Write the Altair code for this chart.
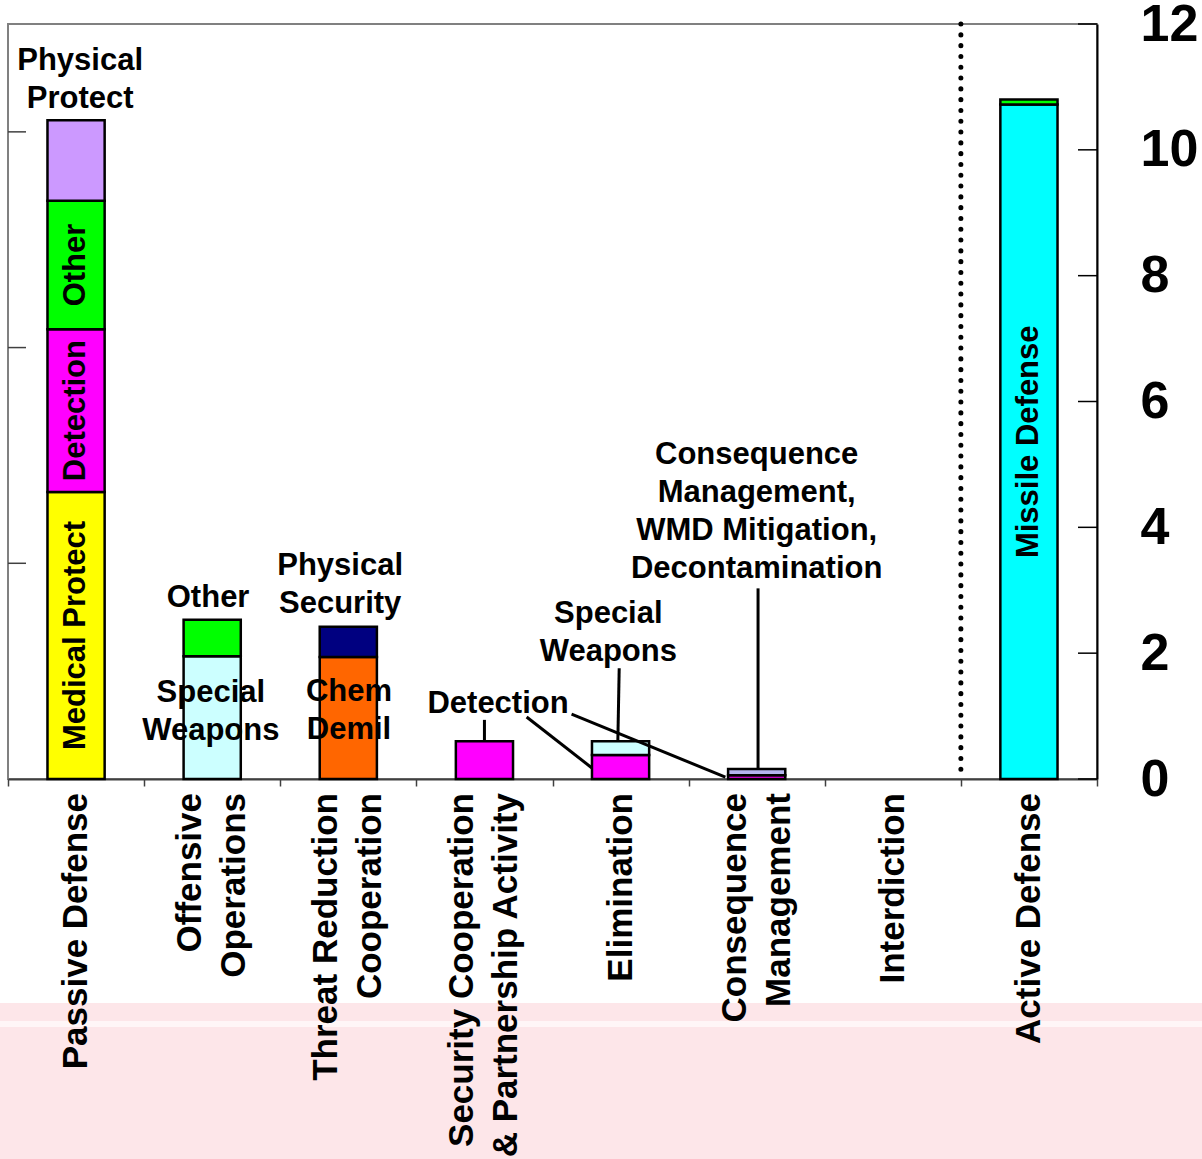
import altair as alt
import pandas as pd

# ---- data -------------------------------------------------------------
categories = [
    "Passive Defense",
    "Offensive\nOperations",
    "Threat Reduction\nCooperation",
    "Security Cooperation\n& Partnership Activity",
    "Elimination",
    "Consequence\nManagement",
    "Interdiction",
    "Active Defense",
]

# stacked segments, bottom to top within each category
seg_category = [0, 0, 0, 0, 1, 1, 2, 2, 3, 4, 4, 5, 5, 7, 7]
seg_name = [
    "Medical Protect", "Detection", "Other", "Physical Protect",
    "Special Weapons", "Other",
    "Chem Demil", "Physical Security",
    "Detection",
    "Detection", "Special Weapons",
    "Detection", "Consequence Management",
    "Missile Defense", "Other",
]
seg_value = [4.56, 2.59, 2.04, 1.28,
             1.95, 0.58,
             1.94, 0.48,
             0.60,
             0.38, 0.22,
             0.06, 0.10,
             10.72, 0.08]

segment_names = ["Medical Protect", "Detection", "Other", "Physical Protect",
                 "Special Weapons", "Chem Demil", "Physical Security",
                 "Consequence Management", "Missile Defense"]
segment_colors = ["#FFFF00", "#FF00FF", "#00FF00", "#CC99FF",
                  "#CCFFFF", "#FF6600", "#000080",
                  "#B4B4EE", "#00FFFF"]

# segments whose name is written inside the bar
inside_labels = [(0, "Medical Protect"), (0, "Detection"), (0, "Other"),
                 (7, "Missile Defense")]

y_ticks = [0, 2, 4, 6, 8, 10, 12]

# unlabeled secondary scale on the left edge (0 to 3.5)
left_ticks = [1, 2, 3]
left_max = 3.5

# callout labels around the bars (y = first line)
ann_text = ["Physical\nProtect", "Other", "Special\nWeapons", "Physical\nSecurity",
            "Chem\nDemil", "Detection", "Special\nWeapons",
            "Consequence\nManagement,\nWMD Mitigation,\nDecontamination"]
ann_x = [0.53, 1.47, 1.49, 2.44, 2.505, 3.60, 4.41, 5.50]
ann_y = [11.41, 2.88, 1.37, 3.39, 1.38, 1.19, 2.62, 5.15]

# leader lines from callouts to their segments
lead_x = [3.50, 3.81, 4.14, 4.49, 5.51]
lead_x2 = [3.50, 4.29, 5.27, 4.48, 5.51]
lead_y = [0.94, 0.985, 1.03, 1.76, 3.03]
lead_y2 = [0.60, 0.175, 0.03, 0.60, 0.16]

divider_at = [7]

# ---- layout -------------------------------------------------------------
W, H = 1089, 755
FONT = "Liberation Sans"
BAR_HALF = 0.21
Y_MAX = 12
N_CAT = len(categories)
CAT_LINE_H = 44          # line height of the category labels, px
BAND_PX = W / N_CAT

seg = pd.DataFrame({"cat": seg_category, "segment": seg_name, "value": seg_value})
seg["y1"] = seg.groupby("cat")["value"].cumsum()
seg["y0"] = seg["y1"] - seg["value"]
seg["x0"] = seg["cat"] + 0.5 - BAR_HALF
seg["x1"] = seg["cat"] + 0.5 + BAR_HALF
seg["xc"] = seg["cat"] + 0.5
seg["ym"] = (seg["y0"] + seg["y1"]) / 2
seg["inside"] = [(c, s) in inside_labels for c, s in zip(seg["cat"], seg["segment"])]

xs = alt.Scale(domain=[0, N_CAT], nice=False, zero=False)
ys = alt.Scale(domain=[0, Y_MAX], nice=False, zero=False)

# x axis: ticks at category boundaries, names drawn as a text layer below
x_axis = alt.Axis(
    values=list(range(N_CAT + 1)), labels=False,
    tickSize=7, tickColor="#404040", tickWidth=1.5,
    domainColor="#404040", domainWidth=2, grid=False, title=None,
)
y_axis = alt.Axis(
    orient="right", values=y_ticks, ticks=False, format="d",
    labelFont=FONT, labelFontSize=52, labelFontWeight="bold", labelColor="black",
    labelPadding=43, labelFlush=False, labelOverlap=False,
    domainColor="black", domainWidth=2, grid=False, title=None,
)

one = pd.DataFrame({"k": [0]})

# light pink footer band behind the category labels
band = alt.Chart(one).mark_rect(color="#FDE6E9", clip=False).encode(
    x=alt.value(-8), x2=alt.value(W + 105), y=alt.value(979), y2=alt.value(1135)
)
stripe = alt.Chart(one).mark_rect(color="#FFF6F7", clip=False).encode(
    x=alt.value(-8), x2=alt.value(W + 105), y=alt.value(997), y2=alt.value(1003)
)

bars = alt.Chart(seg).mark_rect(stroke="black", strokeWidth=2.5).encode(
    x=alt.X("x0:Q", scale=xs, axis=x_axis),
    x2="x1:Q",
    y=alt.Y("y0:Q", scale=ys, axis=y_axis),
    y2="y1:Q",
    color=alt.Color("segment:N",
                    scale=alt.Scale(domain=segment_names, range=segment_colors),
                    legend=None),
)

inside = alt.Chart(seg).transform_filter("datum.inside").mark_text(
    font=FONT, fontSize=31, fontWeight="bold", color="black",
    angle=270, align="center", baseline="middle",
).encode(
    x=alt.X("xc:Q", scale=xs),
    y=alt.Y("ym:Q", scale=ys),
    text="segment:N",
)

# category names, rotated, multi-line blocks centred on each category
cat_df = pd.DataFrame({"name": categories})
cat_df["lines"] = cat_df["name"].str.count("\n") + 1
cat_df["xc"] = [i + 0.5 - (n - 1) * CAT_LINE_H / 2 / BAND_PX
                for i, n in enumerate(cat_df["lines"])]
cat_labels = alt.Chart(cat_df).mark_text(
    font=FONT, fontSize=35, fontWeight="bold", color="black",
    angle=270, align="right", baseline="middle",
    lineBreak="\n", lineHeight=CAT_LINE_H, clip=False,
).encode(
    x=alt.X("xc:Q", scale=xs),
    y=alt.value(H + 14),
    text="name:N",
)

ann_df = pd.DataFrame({"t": ann_text, "x": ann_x, "y": ann_y})
callouts = alt.Chart(ann_df).mark_text(
    font=FONT, fontSize=31, fontWeight="bold", color="black",
    lineBreak="\n", lineHeight=38, align="center", baseline="middle",
).encode(
    x=alt.X("x:Q", scale=xs),
    y=alt.Y("y:Q", scale=ys),
    text="t:N",
)

lead_df = pd.DataFrame({"x": lead_x, "x2": lead_x2, "y": lead_y, "y2": lead_y2})
leaders = alt.Chart(lead_df).mark_rule(color="black", strokeWidth=3).encode(
    x=alt.X("x:Q", scale=xs), x2="x2:Q",
    y=alt.Y("y:Q", scale=ys), y2="y2:Q",
)

divider = alt.Chart(pd.DataFrame({"x": divider_at})).mark_rule(
    color="black", strokeWidth=5, strokeDash=[0.1, 10.7], strokeCap="round"
).encode(x=alt.X("x:Q", scale=xs))

# inward-pointing ticks on the right axis
right_ticks = alt.Chart(pd.DataFrame({"v": y_ticks})).mark_rule(
    color="black", strokeWidth=1.5
).encode(
    y=alt.Y("v:Q", scale=ys), x=alt.value(W - 19), x2=alt.value(W)
)

# secondary left scale, expressed in primary units
left_df = pd.DataFrame({"v": [t * Y_MAX / left_max for t in left_ticks]})
left = alt.Chart(left_df).mark_rule(color="#404040", strokeWidth=1.5).encode(
    y=alt.Y("v:Q", scale=ys), x=alt.value(0), x2=alt.value(18),
)

chart = (
    alt.layer(band, stripe, bars, inside, cat_labels, callouts, leaders,
              divider, right_ticks, left)
    .properties(
        width=W, height=H,
        padding={"left": 8, "top": 24, "right": 105, "bottom": 380},
        autosize=alt.AutoSizeParams(type="none"),
        background="white",
    )
    .configure_view(stroke="#808080", strokeWidth=2)
)

chart.save("out.html", embed_options={"renderer": "svg", "actions": False})
